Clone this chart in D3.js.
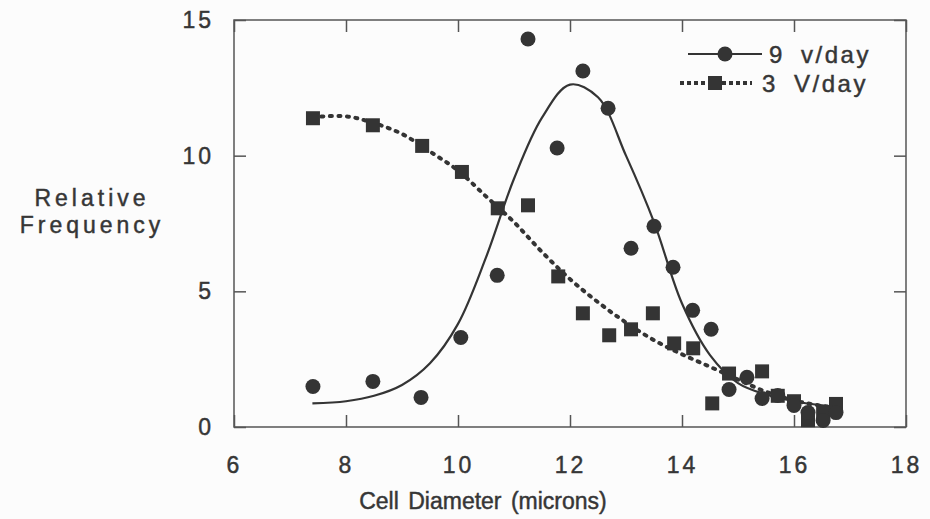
<!DOCTYPE html>
<html>
<head>
    <title>Relative Frequency vs Cell Diameter</title>
    <script src="https://d3js.org/d3.v7.min.js"></script>
    <style>
        body { margin: 0; background: #fcfcfc; }
        text { font-family: "Liberation Sans", Arial, sans-serif; fill: #363636; stroke: #363636; stroke-width: 0.45px; }
    </style>
</head>
<body>
<div id="chart"></div>
<script>
// measured points, 9 v/day (circles)
const diam9 = [7.41, 8.48, 9.34, 10.05, 10.70, 11.25, 11.77, 12.23, 12.68, 13.09, 13.50, 13.84, 14.19, 14.52, 14.84, 15.16, 15.43, 15.71, 16.00, 16.25, 16.52, 16.75];
const freq9 = [1.49, 1.68, 1.09, 3.30, 5.59, 14.3, 10.28, 13.12, 11.75, 6.59, 7.40, 5.89, 4.30, 3.60, 1.38, 1.83, 1.05, 1.16, 0.79, 0.53, 0.24, 0.53];

// measured points, 3 V/day (squares)
const diam3 = [7.41, 8.48, 9.36, 10.07, 10.71, 11.25, 11.79, 12.23, 12.70, 13.09, 13.48, 13.86, 14.20, 14.54, 14.84, 15.43, 15.71, 16.00, 16.25, 16.52, 16.75];
const freq3 = [11.38, 11.12, 10.36, 9.40, 8.06, 8.17, 5.55, 4.19, 3.38, 3.60, 4.19, 3.08, 2.90, 0.87, 1.97, 2.05, 1.15, 0.95, 0.25, 0.55, 0.85];

// fitted curves
const fitX9 = [7.40, 8.00, 8.50, 9.00, 9.50, 10.00, 10.50, 11.00, 11.50, 12.00, 12.50, 13.00, 13.50, 14.00, 14.50, 15.00, 15.50, 16.00, 16.50, 16.75];
const fitY9 = [0.87, 0.95, 1.15, 1.55, 2.35, 3.80, 6.25, 9.15, 11.40, 12.62, 12.15, 10.00, 7.55, 4.55, 2.65, 1.62, 1.20, 0.95, 0.80, 0.75];
const fitX3 = [7.41, 8.00, 8.50, 9.00, 9.50, 10.00, 10.50, 11.00, 11.50, 12.00, 12.50, 13.00, 13.50, 14.00, 14.50, 15.00, 15.50, 16.00, 16.50, 16.75];
const fitY3 = [11.42, 11.45, 11.20, 10.80, 10.15, 9.45, 8.50, 7.55, 6.45, 5.45, 4.60, 3.85, 3.20, 2.68, 2.22, 1.75, 1.30, 0.98, 0.78, 0.72];

const xTicks = [6, 8, 10, 12, 14, 16, 18];
const yTicks = [0, 5, 10, 15];

const ink = "#343434";
const margin = { top: 20, right: 24, bottom: 92, left: 234 };
const width = 930 - margin.left - margin.right;
const height = 519 - margin.top - margin.bottom;

const svg = d3.select("#chart")
    .append("svg")
    .attr("width", 930)
    .attr("height", 519)
    .append("g")
    .attr("transform", `translate(${margin.left}, ${margin.top})`);

const x = d3.scaleLinear().domain([6, 18]).range([0, width]);
const y = d3.scaleLinear().domain([0, 15]).range([height, 0]);

// frame
svg.append("rect")
    .attr("width", width)
    .attr("height", height)
    .attr("fill", "none")
    .attr("stroke", "#555")
    .attr("stroke-width", 1.5);

function styleAxis(g, showLabels) {
    g.select(".domain").remove();
    g.selectAll(".tick line").attr("stroke", "#555").attr("stroke-width", 1.5);
    if (!showLabels) g.selectAll(".tick text").remove();
    else g.selectAll(".tick text")
        .attr("fill", "#363636")
        .style("font-size", "23px")
        .style("letter-spacing", "3px");
}

// x axis
svg.append("g")
    .attr("transform", `translate(0, ${height})`)
    .call(d3.axisBottom(x).tickValues(xTicks).tickSizeInner(-12).tickSizeOuter(0).tickPadding(30))
    .call(g => styleAxis(g, true));

svg.append("g")
    .call(d3.axisTop(x).tickValues(xTicks).tickSizeInner(-12).tickSizeOuter(0))
    .call(g => styleAxis(g, false));

// y axis
svg.append("g")
    .call(d3.axisLeft(y).tickValues(yTicks).tickSizeInner(-12).tickSizeOuter(0).tickPadding(20))
    .call(g => styleAxis(g, true));

svg.append("g")
    .attr("transform", `translate(${width}, 0)`)
    .call(d3.axisRight(y).tickValues(yTicks).tickSizeInner(-12).tickSizeOuter(0))
    .call(g => styleAxis(g, false));

// axis titles
svg.append("text")
    .attr("x", x(12) - 87)
    .attr("y", height + 82)
    .attr("text-anchor", "middle")
    .style("font-size", "23px")
    .style("word-spacing", "3px")
    .text("Cell Diameter (microns)");

svg.append("text")
    .attr("x", 92 - margin.left)
    .attr("y", 206 - margin.top)
    .attr("text-anchor", "middle")
    .style("font-size", "23px")
    .style("letter-spacing", "4px")
    .text("Relative");

svg.append("text")
    .attr("x", 92 - margin.left)
    .attr("y", 233 - margin.top)
    .attr("text-anchor", "middle")
    .style("font-size", "23px")
    .style("letter-spacing", "4px")
    .text("Frequency");

// curves
const line = d3.line().curve(d3.curveCatmullRom.alpha(0.5));

svg.append("path")
    .datum(fitX9.map((d, i) => [x(d), y(fitY9[i])]))
    .attr("d", line)
    .attr("fill", "none")
    .attr("stroke", ink)
    .attr("stroke-width", 2.2);

svg.append("path")
    .datum(fitX3.map((d, i) => [x(d), y(fitY3[i])]))
    .attr("d", line)
    .attr("fill", "none")
    .attr("stroke", ink)
    .attr("stroke-width", 4)
    .attr("stroke-linecap", "round")
    .attr("stroke-dasharray", "2 6.5");

// markers
svg.selectAll(".sq")
    .data(diam3)
    .enter()
    .append("rect")
    .attr("class", "sq")
    .attr("x", d => x(d) - 7)
    .attr("y", (d, i) => y(freq3[i]) - 7)
    .attr("width", 14)
    .attr("height", 14)
    .attr("fill", ink);

svg.selectAll(".dot")
    .data(diam9)
    .enter()
    .append("circle")
    .attr("class", "dot")
    .attr("cx", d => x(d))
    .attr("cy", (d, i) => y(freq9[i]))
    .attr("r", 7.5)
    .attr("fill", ink);

// legend
const legend = svg.append("g").attr("transform", `translate(${688 - margin.left}, ${54 - margin.top})`);

legend.append("line")
    .attr("x1", 0).attr("x2", 74)
    .attr("stroke", ink).attr("stroke-width", 2);
legend.append("circle")
    .attr("cx", 37).attr("r", 7.5).attr("fill", ink);
legend.append("text")
    .attr("x", 81).attr("y", 9)
    .style("font-size", "24px")
    .style("letter-spacing", "2.5px")
    .style("word-spacing", "7px")
    .text("9 v/day");

legend.append("line")
    .attr("x1", -8).attr("x2", 64).attr("y1", 29).attr("y2", 29)
    .attr("stroke", ink).attr("stroke-width", 4)
    .attr("stroke-dasharray", "4 3");
legend.append("rect")
    .attr("x", 20).attr("y", 22).attr("width", 14).attr("height", 14)
    .attr("fill", ink);
legend.append("text")
    .attr("x", 74).attr("y", 38)
    .style("font-size", "24px")
    .style("letter-spacing", "2.5px")
    .style("word-spacing", "7px")
    .text("3 V/day");
</script>
</body>
</html>
